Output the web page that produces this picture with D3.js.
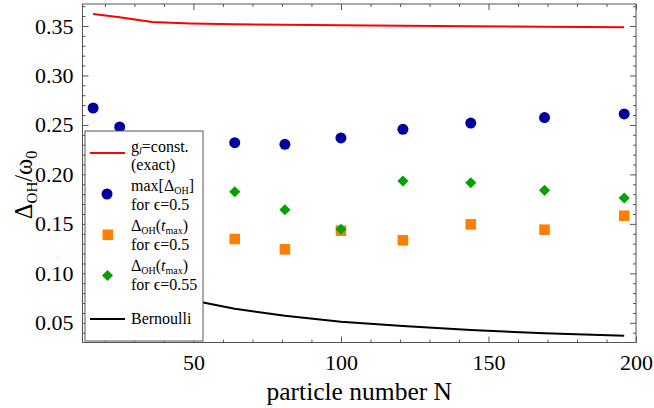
<!DOCTYPE html>
<html>
<head>
<meta charset="utf-8">
<script src="https://cdn.jsdelivr.net/npm/d3@7"></script>
<style>
  body { margin: 0; background: #fff; }
  svg { display: block; }
  text { font-family: "Liberation Serif", "DejaVu Serif", serif; }
</style>
</head>
<body>
<svg id="chart" width="654" height="408"></svg>
<script>
// ---- data ----
const nExact = [16, 25, 36, 49, 64, 81, 100, 121, 144, 169, 196];
const exactVals = [0.3621, 0.3587, 0.3540, 0.3525, 0.3517, 0.3512, 0.3507, 0.3502, 0.3497, 0.3492, 0.3487];
const bernoulliVals = [0.125, 0.100, 0.085, 0.073, 0.0642, 0.0571, 0.0511, 0.0467, 0.0427, 0.0394, 0.0369];
const nMax = [16, 25, 64, 81, 100, 121, 144, 169, 196];
const maxDelta05 = [0.2671, 0.2479, 0.2320, 0.2304, 0.2368, 0.2456, 0.2519, 0.2574, 0.2611];
const nTmax = [64, 81, 100, 121, 144, 169, 196];
const tmax05 = [0.1347, 0.1243, 0.1431, 0.1334, 0.1495, 0.1441, 0.1582];
const tmax055 = [0.1825, 0.1643, 0.1445, 0.1933, 0.1916, 0.1839, 0.1761];
const xMajor = [50, 100, 150, 200];
const yMajor = [0.05, 0.10, 0.15, 0.20, 0.25, 0.30, 0.35];

// ---- layout ----
const svg = d3.select("#chart");
const L = 82.5, R = 636, T = 4, B = 342.5;
const x = d3.scaleLinear().domain([12.4, 200]).range([L, R]);
const y = d3.scaleLinear().domain([0.0301, 0.3722]).range([B, T]);
const frameColor = "#555";

const xMinor = d3.range(20, 201, 10).filter(v => v % 50 !== 0);
const yMinor = d3.range(4, 38, 1).filter(v => v % 5 !== 0).map(v => v / 100);

function styleAxis(g) {
  g.select(".domain").remove();
  g.selectAll(".tick line").attr("stroke", frameColor).attr("stroke-width", 1);
}

// bottom
svg.append("g").attr("transform", `translate(0,${B})`)
  .call(d3.axisBottom(x).tickValues(xMajor).tickSizeInner(-6).tickSizeOuter(0).tickPadding(12).tickFormat(d3.format("d")))
  .call(styleAxis)
  .call(g => g.selectAll("text").attr("font-size", 22).attr("fill", "#000")
    .attr("font-family", "Liberation Serif, serif"));
svg.append("g").attr("transform", `translate(0,${B})`)
  .call(d3.axisBottom(x).tickValues(xMinor).tickSizeInner(-3).tickSizeOuter(0).tickFormat(""))
  .call(styleAxis);
// top
svg.append("g").attr("transform", `translate(0,${T})`)
  .call(d3.axisTop(x).tickValues(xMajor).tickSizeInner(-6).tickSizeOuter(0).tickFormat(""))
  .call(styleAxis);
svg.append("g").attr("transform", `translate(0,${T})`)
  .call(d3.axisTop(x).tickValues(xMinor).tickSizeInner(-3).tickSizeOuter(0).tickFormat(""))
  .call(styleAxis);
// left
svg.append("g").attr("transform", `translate(${L},0)`)
  .call(d3.axisLeft(y).tickValues(yMajor).tickSizeInner(-6).tickSizeOuter(0).tickPadding(9).tickFormat(d3.format(".2f")))
  .call(styleAxis)
  .call(g => g.selectAll("text").attr("font-size", 22).attr("fill", "#000")
    .attr("font-family", "Liberation Serif, serif"));
svg.append("g").attr("transform", `translate(${L},0)`)
  .call(d3.axisLeft(y).tickValues(yMinor).tickSizeInner(-3).tickSizeOuter(0).tickFormat(""))
  .call(styleAxis);
// right
svg.append("g").attr("transform", `translate(${R},0)`)
  .call(d3.axisRight(y).tickValues(yMajor).tickSizeInner(-6).tickSizeOuter(0).tickFormat(""))
  .call(styleAxis);
svg.append("g").attr("transform", `translate(${R},0)`)
  .call(d3.axisRight(y).tickValues(yMinor).tickSizeInner(-3).tickSizeOuter(0).tickFormat(""))
  .call(styleAxis);

// frame
svg.append("rect").attr("x", L).attr("y", T).attr("width", R - L).attr("height", B - T)
  .attr("fill", "none").attr("stroke", frameColor).attr("stroke-width", 1);

// clip
svg.append("clipPath").attr("id", "clip").append("rect")
  .attr("x", L).attr("y", T).attr("width", R - L).attr("height", B - T);
const plot = svg.append("g").attr("clip-path", "url(#clip)");

const line = d3.line().x(d => x(d[0])).y(d => y(d[1]));
plot.append("path").datum(nExact.map((n, i) => [n, exactVals[i]]))
  .attr("d", line).attr("fill", "none").attr("stroke", "#ff0000").attr("stroke-width", 2);
plot.append("path").datum(nExact.map((n, i) => [n, bernoulliVals[i]]))
  .attr("d", line).attr("fill", "none").attr("stroke", "#000").attr("stroke-width", 2);

const blue = "#00009c", orange = "#ff8000", green = "#00a300";
plot.selectAll(".dot").data(nMax.map((n, i) => [n, maxDelta05[i]])).enter()
  .append("circle").attr("cx", d => x(d[0])).attr("cy", d => y(d[1])).attr("r", 5.5).attr("fill", blue);
plot.selectAll(".sq").data(nTmax.map((n, i) => [n, tmax05[i]])).enter()
  .append("rect").attr("x", d => x(d[0]) - 5.3).attr("y", d => y(d[1]) - 5.3)
  .attr("width", 10.6).attr("height", 10.6).attr("fill", orange);
const diamond = d3.symbol().type(d3.symbolSquare).size(62);
plot.selectAll(".dia").data(nTmax.map((n, i) => [n, tmax055[i]])).enter()
  .append("path").attr("d", diamond)
  .attr("transform", d => `translate(${x(d[0])},${y(d[1])}) rotate(45)`).attr("fill", green);

// axis titles
svg.append("text").attr("x", (L + R) / 2).attr("y", 400).attr("text-anchor", "middle")
  .attr("font-size", 25.5).text("particle number N");
const yt = svg.append("text").attr("transform", "translate(32,185) rotate(-90)")
  .attr("text-anchor", "middle").attr("font-size", 24.5);
yt.append("tspan").text("Δ");
yt.append("tspan").attr("font-size", 15).attr("dy", 5).text("OH");
yt.append("tspan").attr("dy", -5).text("/ω");
yt.append("tspan").attr("font-size", 16).attr("dy", 5).text("0");

// legend
const lg = svg.append("g");
lg.append("rect").attr("x", 85).attr("y", 131).attr("width", 118).attr("height", 210)
  .attr("fill", "#fff").attr("stroke", frameColor).attr("stroke-width", 1);
const tx = 131, fs = 16;
function ltext(yy) {
  return lg.append("text").attr("x", tx).attr("y", yy).attr("font-size", fs).attr("fill", "#000");
}
lg.append("line").attr("x1", 90).attr("x2", 125).attr("y1", 153).attr("y2", 153)
  .attr("stroke", "#ff0000").attr("stroke-width", 2);
let t1 = ltext(151.5);
t1.append("tspan").text("g");
t1.append("tspan").attr("font-size", 10).attr("font-style", "italic").attr("dy", 2).text("l");
t1.append("tspan").attr("dy", -2).text("=const.");
ltext(169.5).text("(exact)");

lg.append("circle").attr("cx", 107).attr("cy", 194).attr("r", 5.5).attr("fill", blue);
let t2 = ltext(191);
t2.append("tspan").text("max[Δ");
t2.append("tspan").attr("font-size", 10).attr("dy", 2.5).text("OH");
t2.append("tspan").attr("dy", -2.5).text("]");
ltext(209.5).text("for ϵ=0.5");

lg.append("rect").attr("x", 102.5).attr("y", 229.5).attr("width", 10.6).attr("height", 10.6).attr("fill", orange);
let t3 = ltext(231);
t3.append("tspan").text("Δ");
t3.append("tspan").attr("font-size", 10).attr("dy", 2.5).text("OH");
t3.append("tspan").attr("dy", -2.5).text("(");
t3.append("tspan").attr("font-style", "italic").text("t");
t3.append("tspan").attr("font-size", 10).attr("dy", 2.5).text("max");
t3.append("tspan").attr("dy", -2.5).text(")");
ltext(249.5).text("for ϵ=0.5");

lg.append("path").attr("d", diamond).attr("transform", "translate(107.5,275.5) rotate(45)").attr("fill", green);
let t4 = ltext(271);
t4.append("tspan").text("Δ");
t4.append("tspan").attr("font-size", 10).attr("dy", 2.5).text("OH");
t4.append("tspan").attr("dy", -2.5).text("(");
t4.append("tspan").attr("font-style", "italic").text("t");
t4.append("tspan").attr("font-size", 10).attr("dy", 2.5).text("max");
t4.append("tspan").attr("dy", -2.5).text(")");
ltext(290).text("for ϵ=0.55");

lg.append("line").attr("x1", 90).attr("x2", 125).attr("y1", 319).attr("y2", 319)
  .attr("stroke", "#000").attr("stroke-width", 2);
ltext(324).text("Bernoulli");
</script>
</body>
</html>
